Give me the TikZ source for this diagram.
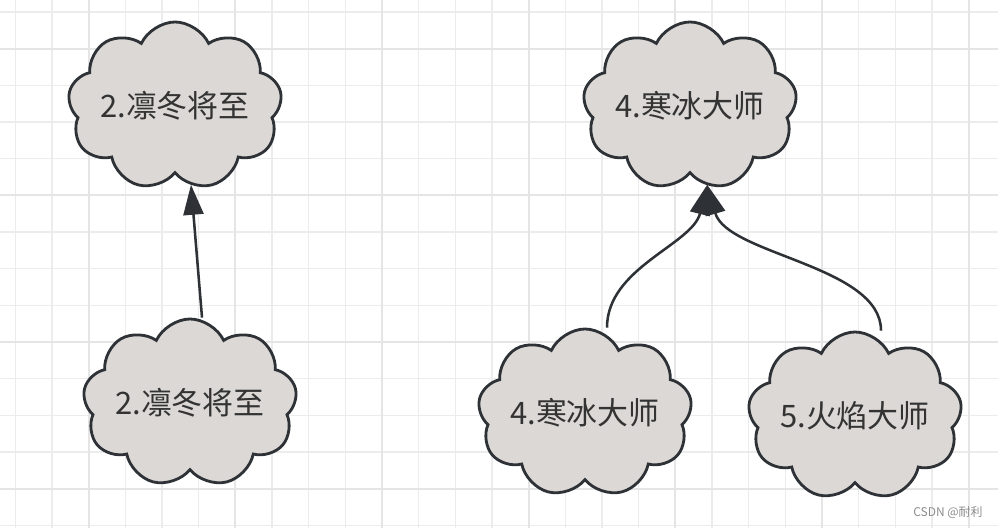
\documentclass[tikz,border=0pt]{standalone}
\usepackage{fontspec}
\newfontfamily\cjk{Noto Sans CJK SC}
\usetikzlibrary{arrows.meta, shapes.symbols}
\definecolor{gridminor}{HTML}{ECECEC}
\definecolor{gridmajor}{HTML}{E5E5E5}
\definecolor{cloudfill}{HTML}{DBD8D6}
\definecolor{cloudline}{HTML}{2E3236}
\definecolor{inktext}{HTML}{333333}
\definecolor{marktext}{HTML}{8C8C8C}

\begin{document}
\begin{tikzpicture}[
  x=0.025cm, y=-0.025cm,
  puff/.style={cloud, cloud puffs=9, cloud puff arc=130, cloud ignores aspect,
               draw=cloudline, fill=cloudfill, line width=2pt, text=inktext,
               font=\cjk\fontsize{22}{26}\selectfont,
               minimum width=5.35cm, minimum height=4.2cm, inner sep=0pt},
  arr/.style={-{Triangle[length=0.75cm,width=0.5cm]}, line width=1.8pt, color=cloudline},
  gmin/.style={draw=gridminor, line width=1.1pt},
  gmaj/.style={draw=gridmajor, line width=1.5pt},
]
\useasboundingbox (0,0) rectangle (998,528);
\fill[white] (0,0) rectangle (998,528);

%% GRID
\foreach \i in {0,...,26} \draw[gmin] ({15.3+36.67*\i},0) -- ++(0,528);
\foreach \i in {0,...,14} \draw[gmin] (0,{12+36.67*\i}) -- ++(998,0);
\foreach \i in {0,...,6} \draw[gmaj] ({88.7+146.67*\i},0) -- ++(0,528);
\foreach \i in {0,...,3} \draw[gmaj] (0,{48.7+146.67*\i}) -- ++(998,0);

%% LEFT PAIR
\node[puff] (wt) at (175,106) {2.凛冬将至};
\node[puff] (wb) at (190,403) {2.凛冬将至};

%% RIGHT GROUP
\node[puff] (it) at (690,106) {4.寒冰大师};
\node[puff] (ib) at (585,413) {4.寒冰大师};
\node[puff] (fb) at (855,416) {5.火焰大师};

%% Arrows
\draw[arr] ([xshift=0.3cm]wb.north) -- ([xshift=0.4cm,yshift=-0.25cm]wt.south);
\draw[arr] ([xshift=0.55cm]ib.north) .. controls +(0,-60) and +(-15,60) .. ([xshift=0.43cm,yshift=-0.25cm]it.south);
\draw[arr] ([xshift=0.65cm]fb.north) .. controls +(0,-65) and +(20,70) .. ([xshift=0.43cm,yshift=-0.25cm]it.south);

%% watermark
\node[font=\cjk\fontsize{8.5}{10}\selectfont, text=marktext] (mark) at (948,513) {CSDN @耐利};

\end{tikzpicture}
\end{document}
